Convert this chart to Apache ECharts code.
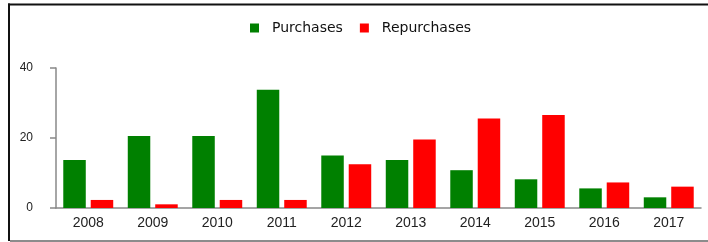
<!DOCTYPE html>
<html>
<head>
<meta charset="utf-8">
<script src="https://cdn.jsdelivr.net/npm/echarts@6/dist/echarts.min.js"></script>
<style>
html,body{margin:0;padding:0;background:#fff;}
#chart{width:708px;height:242px;}
</style>
</head>
<body>
<div id="chart"></div>
<script>
const categories = ['2008','2009','2010','2011','2012','2013','2014','2015','2016','2017'];
const purchases = [13.7, 20.6, 20.6, 33.8, 15.0, 13.7, 10.8, 8.2, 5.6, 3.05];
const repurchases = [2.3, 1.05, 2.3, 2.3, 12.5, 19.6, 25.6, 26.6, 7.3, 6.1];
const yTicks = [0, 20, 40];

const chart = echarts.init(document.getElementById('chart'), null, {renderer:'canvas'});
chart.setOption({
  animation: false,
  backgroundColor: '#fff',
  legend: {
    left: 250, top: 21, padding: 0,
    itemWidth: 9, itemHeight: 9, itemGap: 17,
    icon: 'rect',
    textStyle: {fontFamily: 'DejaVu Sans', fontSize: 14, color: '#111', padding: [0,0,0,8]},
    data: ['Purchases','Repurchases']
  },
  grid: {left: 56, right: 7, top: 68, bottom: 34, containLabel: false},
  xAxis: {
    type: 'category',
    data: categories,
    axisLine: {lineStyle: {color: '#888', width: 1.5}},
    axisTick: {length: 6, lineStyle: {color: '#888', width: 1.5}},
    axisLabel: {fontFamily: 'Liberation Sans', fontSize: 14, color: '#222', margin: 8}
  },
  yAxis: {
    type: 'value',
    min: yTicks[0], max: yTicks[yTicks.length-1], interval: 20,
    axisLine: {show: true, lineStyle: {color: '#888', width: 1.5}},
    axisTick: {show: true, length: 6, lineStyle: {color: '#888', width: 1.5}},
    splitLine: {show: false},
    axisLabel: {fontFamily: 'Liberation Sans', fontSize: 12, color: '#222', margin: 23}
  },
  series: [
    {name: 'Purchases', type: 'bar', data: purchases, barWidth: 22.5, barGap: '22%', itemStyle: {color: '#008000'}},
    {name: 'Repurchases', type: 'bar', data: repurchases, barWidth: 22.5, barGap: '22%', itemStyle: {color: '#ff0000'}}
  ],
  graphic: [
    {type: 'line', shape: {x1: 8, y1: 4.5, x2: 708, y2: 4.5}, style: {stroke: '#111', lineWidth: 2}},
    {type: 'line', shape: {x1: 9, y1: 3.5, x2: 9, y2: 241}, style: {stroke: '#111', lineWidth: 2}},
    {type: 'line', shape: {x1: 10, y1: 241, x2: 708, y2: 241}, style: {stroke: '#666', lineWidth: 1.5}}
  ]
});
</script>
</body>
</html>
